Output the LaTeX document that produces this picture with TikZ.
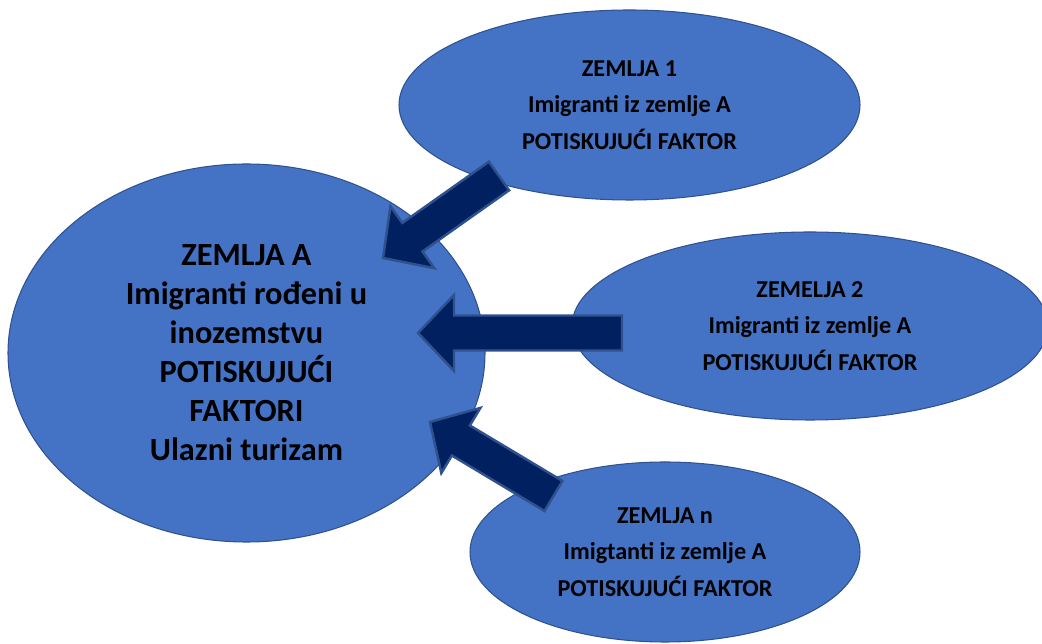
\documentclass[tikz,border=0pt]{standalone}
\usepackage{fontspec}
\setmainfont{Carlito}
\usepackage{tikz}
\usetikzlibrary{calc,shapes.geometric}

% block arrow from #1 (tail) to #2 (tip)
\newcommand{\blockarrow}[2]{%
	\coordinate (#1-h) at ($(#2)!0.72cm!(#1)$);
	\draw[push arrow] ($(#1)!0.35cm!90:(#2)$) -- ($(#1-h)!0.35cm!90:(#2)$)
		-- ($(#1-h)!0.76cm!90:(#2)$) -- (#2) -- ($(#1-h)!0.76cm!-90:(#2)$)
		-- ($(#1-h)!0.35cm!-90:(#2)$) -- ($(#1)!0.35cm!-90:(#2)$) -- cycle;}

\begin{document}
\begin{tikzpicture}
		[x=0.02cm,y=-0.02cm,line join=miter,
		%Styles
		country/.style={ellipse,draw=borderblue,line width=0.6pt,fill=countryblue,
			inner sep=0pt,align=center,text=black,font=\bfseries},
		big text/.style={font=\fontsize{18.4}{22.2}\selectfont\bfseries},
		small text/.style={font=\fontsize{13.8}{20.9}\selectfont\bfseries},
		push arrow/.style={draw=borderblue,line width=1.4pt,fill=arrownavy}
		]
		
		%Colors
		\definecolor{countryblue}{HTML}{4472C4}
		\definecolor{borderblue}{HTML}{2F528F}
		\definecolor{arrownavy}{HTML}{002060}
		
		\useasboundingbox (0,0) rectangle (1042,644);
		
		%The countries
		\node[country,big text,minimum width=477*0.02cm,minimum height=378*0.02cm] (zemljaA) at (246.5,353)
			{ZEMLJA A\\Imigranti rođeni u\\inozemstvu\\POTISKUJUĆI\\FAKTORI\\Ulazni turizam};
		\node[country,small text,minimum width=461*0.02cm,minimum height=190*0.02cm] (zemlja1) at (629.5,105)
			{ZEMLJA 1\\Imigranti iz zemlje A\\POTISKUJUĆI FAKTOR};
		\node[country,small text,minimum width=476*0.02cm,minimum height=188*0.02cm] (zemlja2) at (810,326)
			{ZEMELJA 2\\Imigranti iz zemlje A\\POTISKUJUĆI FAKTOR};
		\node[country,small text,minimum width=390*0.02cm,minimum height=180*0.02cm] (zemljan) at (665,552)
			{ZEMLJA n\\Imigtanti iz zemlje A\\POTISKUJUĆI FAKTOR};
		
		%Arrow ends
		\coordinate (from1) at (499,176);
		\coordinate (to1) at (383,258);
		\coordinate (from2) at (622,333);
		\coordinate (to2) at (418,333);
		\coordinate (fromn) at (553.5,496);
		\coordinate (ton) at (430,422);
		
		%The arrows
		\blockarrow{from1}{to1}
		\blockarrow{from2}{to2}
		\blockarrow{fromn}{ton}
	\end{tikzpicture}
\end{document}
